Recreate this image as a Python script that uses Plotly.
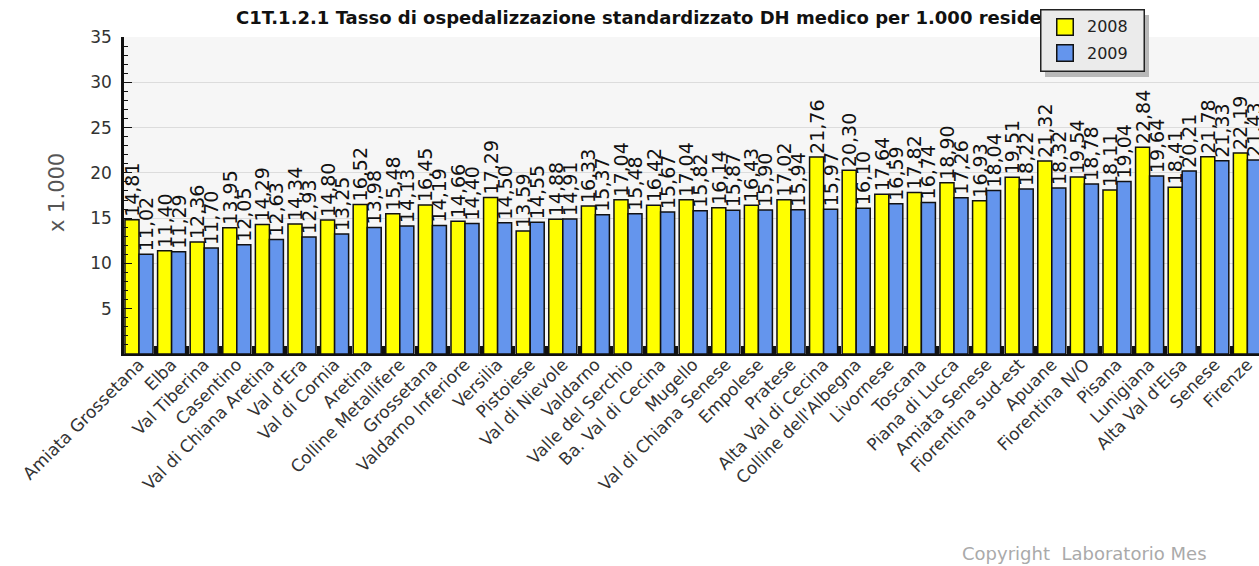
import plotly.graph_objects as go

zone = [
    "Amiata Grossetana", "Elba", "Val Tiberina", "Casentino", "Val di Chiana Aretina",
    "Val d'Era", "Val di Cornia", "Aretina", "Colline Metallifere", "Grossetana",
    "Valdarno Inferiore", "Versilia", "Pistoiese", "Val di Nievole", "Valdarno",
    "Valle del Serchio", "Ba. Val di Cecina", "Mugello", "Val di Chiana Senese", "Empolese",
    "Pratese", "Alta Val di Cecina", "Colline dell'Albegna", "Livornese", "Toscana",
    "Piana di Lucca", "Amiata Senese", "Fiorentina sud-est", "Apuane", "Fiorentina N/O",
    "Pisana", "Lunigiana", "Alta Val d'Elsa", "Senese", "Firenze",
]
tasso_2008 = [
    14.81, 11.40, 12.36, 13.95, 14.29, 14.34, 14.80, 16.52, 15.48, 16.45,
    14.66, 17.29, 13.59, 14.88, 16.33, 17.04, 16.42, 17.04, 16.14, 16.43,
    17.02, 21.76, 20.30, 17.64, 17.82, 18.90, 16.93, 19.51, 21.32, 19.54,
    18.11, 22.84, 18.41, 21.78, 22.19,
]
tasso_2009 = [
    11.02, 11.29, 11.70, 12.05, 12.63, 12.93, 13.25, 13.98, 14.13, 14.19,
    14.40, 14.50, 14.55, 14.91, 15.37, 15.48, 15.67, 15.82, 15.87, 15.90,
    15.94, 15.97, 16.10, 16.59, 16.74, 17.26, 18.04, 18.22, 18.32, 18.78,
    19.04, 19.64, 20.21, 21.33, 21.43,
]
y_ticks = [5, 10, 15, 20, 25, 30, 35]
series = [("2008", tasso_2008, "#ffff00"), ("2009", tasso_2009, "#6495ed")]

FONT = "DejaVu Sans"


def it_fmt(values):
    return [f"{v:.2f}".replace(".", ",") for v in values]


def bar(name, values, color):
    return go.Bar(
        name=name,
        x=zone,
        y=values,
        text=it_fmt(values),
        textposition="outside",
        textangle=-90,
        constraintext="none",
        cliponaxis=False,
        textfont=dict(family=FONT, size=19, color="#111111"),
        marker=dict(color=color, line=dict(color="#111111", width=1.5)),
        hoverinfo="skip",
    )


fig = go.Figure([bar(n, v, c) for n, v, c in series])

L, R, T, B = 124, 0, 37, 212
W, H = 1259, 566
pw, ph = W - L - R, H - T - B


def px_x(x):
    return (x - L) / pw


def px_y(y):
    return (H - B - y) / ph


def box(x, y, w, h, fill, border=None, bw=0):
    # empty annotation used as a filled rectangle, drawn above earlier annotations
    return dict(text=" ", x=px_x(x), y=px_y(y), xref="paper", yref="paper",
                xanchor="left", yanchor="top", showarrow=False,
                width=w, height=h, borderpad=0, bgcolor=fill,
                bordercolor=border or fill, borderwidth=bw)


annotations = [
    dict(text="<b>C1T.1.2.1 Tasso di ospedalizzazione standardizzato DH medico per 1.000 residenti</b>",
         x=px_x(652), y=px_y(18), xref="paper", yref="paper",
         xanchor="center", yanchor="middle", showarrow=False,
         font=dict(family=FONT, size=18, color="#111111")),
    dict(text="x 1.000", x=px_x(57), y=px_y(193), xref="paper", yref="paper",
         xanchor="center", yanchor="middle", textangle=-90, showarrow=False,
         font=dict(family=FONT, size=21, color="#555555")),
    dict(text="Copyright  Laboratorio Mes", x=px_x(960), y=px_y(553),
         xref="paper", yref="paper", xanchor="left", yanchor="middle",
         showarrow=False, font=dict(family=FONT, size=18, color="#aaaaaa")),
    # legend: shadow, frame, then one swatch + label per series
    box(1045, 15, 104, 62, "#b8b8b8"),
    box(1040, 9, 102, 60, "#ebebeb", "#222222", 1.5),
]
for i, (name, _, color) in enumerate(series):
    top = 18 + i * 26
    annotations.append(box(1056, top, 15, 15, color, "#111111", 1.5))
    annotations.append(dict(text=name, x=px_x(1085), y=px_y(top + 9), xref="paper", yref="paper",
                            xanchor="left", yanchor="middle", showarrow=False,
                            font=dict(family=FONT, size=16, color="#222222")))

fig.update_layout(
    width=W,
    height=H,
    margin=dict(l=L, r=R, t=T, b=B),
    paper_bgcolor="white",
    plot_bgcolor="#f6f6f6",
    barmode="group",
    bargap=0.14,
    bargroupgap=0,
    font=dict(family=FONT, color="#333333"),
    showlegend=False,
    xaxis=dict(
        type="category",
        range=[-0.46, 34.356],
        tickangle=-45,
        tickfont=dict(family=FONT, size=17, color="#333333"),
        ticklabelstandoff=-8,
        showline=True, linecolor="#111111", linewidth=2,
        ticks="inside", tickson="boundaries", ticklen=8, tickwidth=3, tickcolor="#111111",
        showgrid=False,
    ),
    yaxis=dict(
        range=[0, 35],
        tickvals=y_ticks,
        tickfont=dict(family=FONT, size=17, color="#333333"),
        ticklabelstandoff=6,
        showline=True, linecolor="#111111", linewidth=2.5,
        ticks="inside", ticklen=8, tickcolor="#111111",
        minor=dict(dtick=1, ticks="inside", ticklen=4, tickcolor="#111111", showgrid=False),
        showgrid=True, gridcolor="#dcdcdc", gridwidth=1,
        zeroline=False,
    ),
    annotations=annotations,
)

fig.write_html("out.html")
